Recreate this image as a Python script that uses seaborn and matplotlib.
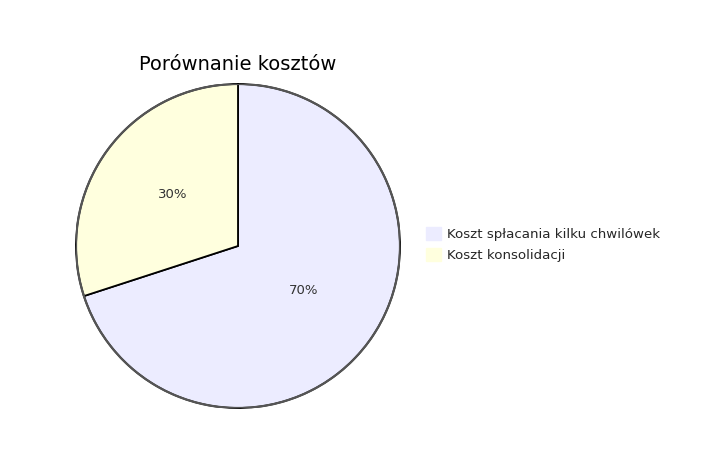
import matplotlib
matplotlib.use("Agg")
import matplotlib.pyplot as plt
import seaborn as sns
from matplotlib.patches import Patch, Circle

labels = ["Koszt spłacania kilku chwilówek", "Koszt konsolidacji"]
values = [70, 30]
colors = ["#ECECFF", "#FFFFDE"]
title = "Porównanie kosztów"

sns.set_theme(style="white")
plt.rcParams['font.family'] = ['DejaVu Sans']

W, H = 703, 474
fig = plt.figure(figsize=(W / 100, H / 100), dpi=100)
fig.patch.set_facecolor("white")

cx, cy, r = 238, 246, 162
ax = fig.add_axes([(cx - r) / W, (H - cy - r) / H, 2 * r / W, 2 * r / H])

wedges, texts, autotexts = ax.pie(
    values, colors=colors, startangle=90, counterclock=False, radius=1,
    autopct=lambda p: f"{p:.0f}%", pctdistance=0.5,
    wedgeprops=dict(edgecolor="black", linewidth=1.3),
    textprops=dict(fontsize=9.5, color="#333333", va="baseline"),
)
ax.add_patch(Circle((0, 0), 1, fill=False, edgecolor="#555555", linewidth=1.6, zorder=5))
ax.set_xlim(-1, 1)
ax.set_ylim(-1, 1)
ax.set_aspect("equal")
ax.axis("off")

fig.text(cx / W, 1 - 64 / H, title, ha="center", va="center", fontsize=14, color="black")

handles = [Patch(facecolor=c, edgecolor=c) for c in colors]
fig.legend(handles, labels, loc="upper left", bbox_to_anchor=(426 / W, 1 - 227 / H),
           frameon=False, fontsize=9.6, handlelength=1.1, handleheight=1.1,
           handletextpad=0.45, labelspacing=0.55, borderpad=0, borderaxespad=0)

fig.savefig("out.png", dpi=100, facecolor="white")
